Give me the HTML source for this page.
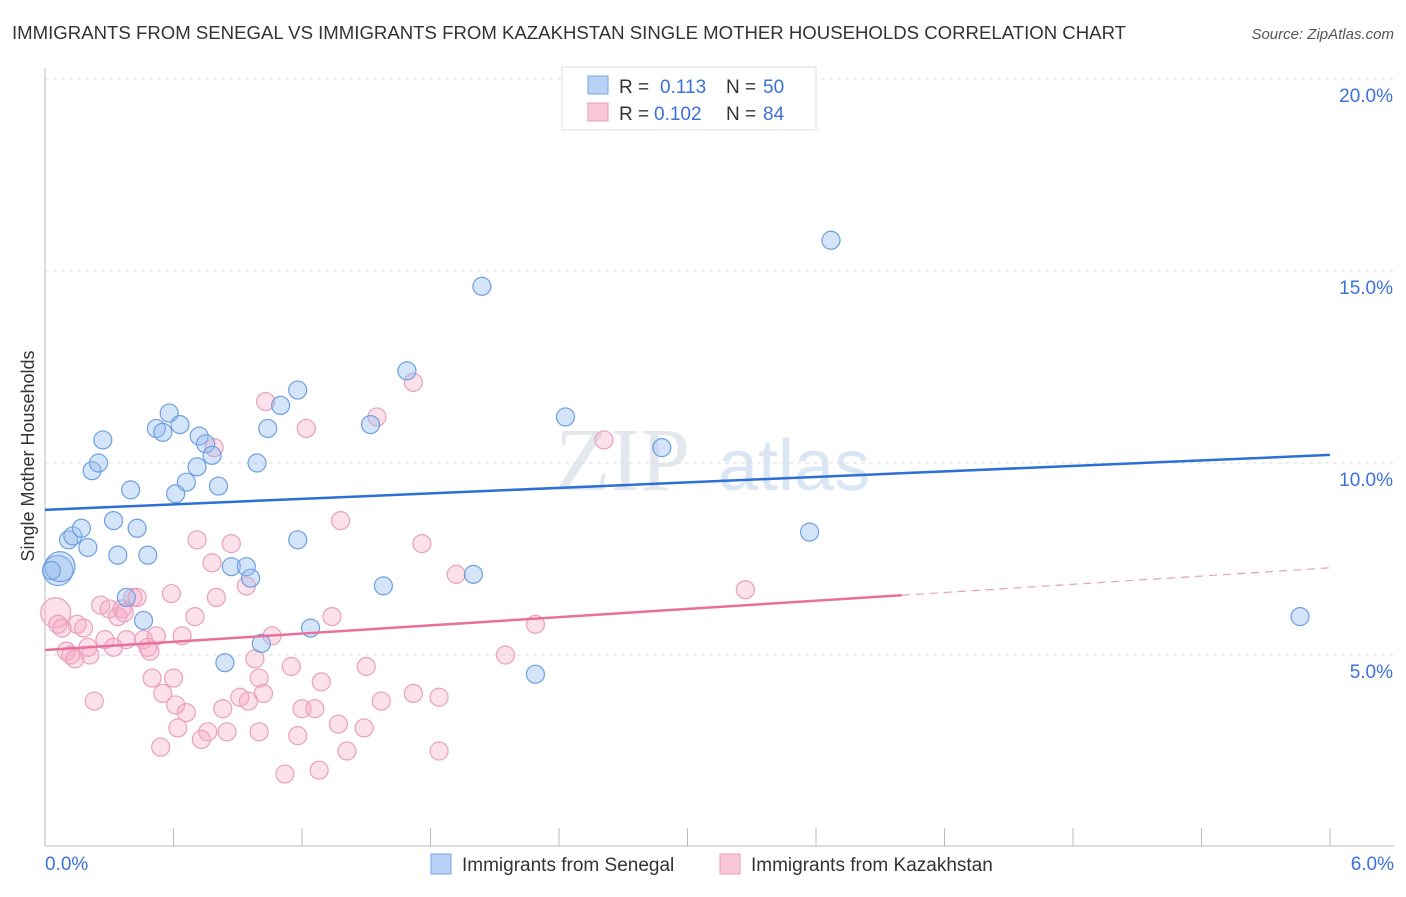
<!DOCTYPE html>
<html><head><meta charset="utf-8"><style>
body{margin:0;background:#fff;font-family:"Liberation Sans",sans-serif;}
</style></head><body>
<svg id="chart" width="1406" height="892" xmlns="http://www.w3.org/2000/svg" font-family="Liberation Sans, sans-serif">
<text x="12" y="39" font-size="18.6" fill="#333">IMMIGRANTS FROM SENEGAL VS IMMIGRANTS FROM KAZAKHSTAN SINGLE MOTHER HOUSEHOLDS CORRELATION CHART</text>
<text x="1394" y="39" font-size="15" fill="#555" text-anchor="end" font-style="italic">Source: ZipAtlas.com</text>
<text x="555" y="490" font-size="90" fill="#e4e8ee" font-family="Liberation Serif, serif">ZIP</text>
<text x="718" y="490" font-size="72" fill="#dbe6f5">atlas</text>
<g id="grid"></g>
<g id="axes"></g>
<g id="pts"></g>
<g id="lines"></g>
<text transform="translate(34,456) rotate(-90)" font-size="18" fill="#333" text-anchor="middle">Single Mother Households</text>
<g>
<rect x="562" y="67" width="254" height="63" fill="#fff" stroke="#ddd"/>
<rect x="588" y="76" width="20" height="18" fill="#b8d2f5" stroke="#7aa6e0"/>
<text x="619" y="93" font-size="19" fill="#333">R = </text><text x="660" y="93" font-size="19" fill="#3a72d8">0.113</text>
<text x="726" y="93" font-size="19" fill="#333">N = </text><text x="763" y="93" font-size="19" fill="#3a72d8">50</text>
<rect x="588" y="103" width="20" height="18" fill="#f8c8d8" stroke="#e898b4"/>
<text x="619" y="120" font-size="19" fill="#333">R = </text><text x="654" y="120" font-size="19" fill="#3a72d8">0.102</text>
<text x="726" y="120" font-size="19" fill="#333">N = </text><text x="763" y="120" font-size="19" fill="#3a72d8">84</text>
</g>
<g>
<rect x="431" y="854" width="20" height="20" fill="#b8d2f5" stroke="#7aa6e0"/>
<text x="462" y="871" font-size="19" fill="#333">Immigrants from Senegal</text>
<rect x="720" y="854" width="20" height="20" fill="#f8c8d8" stroke="#e898b4"/>
<text x="751" y="871" font-size="19" fill="#333">Immigrants from Kazakhstan</text>
</g>
</svg>
<script>
const yTicks=[5,10,15,20];
const yTickLabels=["5.0%","10.0%","15.0%","20.0%"];
const xTickLabels=["0.0%","6.0%"];
const senegalX=[0.06,0.07,0.03,0.11,0.13,0.17,0.2,0.22,0.25,0.27,0.32,0.34,0.38,0.4,0.43,0.46,0.48,0.52,0.55,0.58,0.61,0.63,0.66,0.71,0.72,0.75,0.78,0.81,0.84,0.87,0.94,0.96,0.99,1.01,1.04,1.1,1.18,1.18,1.24,1.52,1.58,1.69,2.0,2.04,2.29,2.43,2.88,3.57,3.67,5.86];
const senegalY=[7.2,7.3,7.2,8.0,8.1,8.3,7.8,9.8,10.0,10.6,8.5,7.6,6.5,9.3,8.3,5.9,7.6,10.9,10.8,11.3,9.2,11.0,9.5,9.9,10.7,10.5,10.2,9.4,4.8,7.3,7.3,7.0,10.0,5.3,10.9,11.5,11.9,8.0,5.7,11.0,6.8,12.4,7.1,14.6,4.5,11.2,10.4,8.2,15.8,6.0];
const kazakhX=[0.05,0.06,0.08,0.1,0.12,0.14,0.15,0.18,0.2,0.21,0.23,0.26,0.28,0.3,0.32,0.34,0.36,0.37,0.38,0.41,0.43,0.46,0.48,0.49,0.5,0.52,0.54,0.55,0.59,0.6,0.61,0.62,0.64,0.66,0.7,0.71,0.73,0.76,0.78,0.79,0.8,0.83,0.85,0.87,0.91,0.94,0.95,0.98,1.0,1.0,1.02,1.03,1.06,1.12,1.15,1.18,1.2,1.22,1.26,1.28,1.29,1.34,1.37,1.38,1.41,1.49,1.5,1.55,1.57,1.72,1.72,1.76,1.84,1.84,1.92,2.15,2.29,2.61,3.27];
const kazakhY=[6.1,5.8,5.7,5.1,5.0,4.9,5.8,5.7,5.2,5.0,3.8,6.3,5.4,6.2,5.2,6.0,6.2,6.1,5.4,6.5,6.5,5.4,5.2,5.1,4.4,5.5,2.6,4.0,6.6,4.4,3.7,3.1,5.5,3.5,6.0,8.0,2.8,3.0,7.4,10.4,6.5,3.6,3.0,7.9,3.9,6.8,3.8,4.9,3.0,4.4,4.0,11.6,5.5,1.9,4.7,2.9,3.6,10.9,3.6,2.0,4.3,6.0,3.2,8.5,2.5,3.1,4.7,11.2,3.8,4.0,12.1,7.9,3.9,2.5,7.1,5.0,5.8,10.6,6.7];
const senegalBig=[0,1];const kazakhBig=[0];
const sLine=[8.78,10.21];const kLine=[5.13,7.27];const kSolidEnd=4.0;
const NS="http://www.w3.org/2000/svg";
const X=v=>45+v*214.17, Y=v=>847-v*38.4;
function mk(t,a,p){const e=document.createElementNS(NS,t);for(const k in a)e.setAttribute(k,a[k]);p.appendChild(e);return e;}
const grid=document.getElementById('grid'),axes=document.getElementById('axes');
yTicks.forEach((t,i)=>{
 const l=mk('line',{x1:45,x2:1394,y1:Y(t),y2:Y(t),stroke:'#ddd','stroke-dasharray':'4,4'},grid);
 
 
 const tx=mk('text',{x:1393,y:Y(t)+23,'font-size':19,fill:'#3a72d8','text-anchor':'end'},axes);
 tx.textContent=yTickLabels[i];
 
 
});
const ax=mk('line',{x1:45,x2:1394,y1:846,y2:846,stroke:'#bbb'},axes);


const ay=mk('line',{x1:45,x2:45,y1:68,y2:846,stroke:'#bbb'},axes);


for(let i=0;i<=10;i++){const t=mk('line',{x1:X(i*0.6),x2:X(i*0.6),y1:828,y2:846,stroke:'#bbb'},axes);
 
 }
[[0,45,'start'],[6,1394,'end']].forEach((d,i)=>{const t=mk('text',{x:d[1],y:870,'font-size':19,fill:'#3a72d8','text-anchor':d[2]},axes);t.textContent=xTickLabels[i];
 
 });
const pts=document.getElementById('pts');
kazakhX.forEach((x,i)=>{const c=mk('circle',{cx:X(x),cy:Y(kazakhY[i]),r:kazakhBig.includes(i)?15:9,fill:'rgba(245,165,195,0.35)',stroke:'#eaa0bb','stroke-width':1.2},pts);
 
 });
senegalX.forEach((x,i)=>{const c=mk('circle',{cx:X(x),cy:Y(senegalY[i]),r:senegalBig.includes(i)?15:9,fill:'rgba(150,190,240,0.4)',stroke:'#6e9fe0','stroke-width':1.2},pts);
 
 });
const lines=document.getElementById('lines');
const sl=mk('line',{x1:X(0),y1:Y(sLine[0]),x2:X(6),y2:Y(sLine[1]),stroke:'#2c6fd6','stroke-width':2.5},lines);


const kAt=x=>kLine[0]+(kLine[1]-kLine[0])*x/6;
const kl=mk('line',{x1:X(0),y1:Y(kLine[0]),x2:X(kSolidEnd),y2:Y(kAt(kSolidEnd)),stroke:'#e8709a','stroke-width':2.5},lines);


const kd=mk('line',{x1:X(kSolidEnd),y1:Y(kAt(kSolidEnd)),x2:X(6),y2:Y(kLine[1]),stroke:'#e8a0b8','stroke-width':1.2,'stroke-dasharray':'8,6'},lines);


</script>
</body></html>
